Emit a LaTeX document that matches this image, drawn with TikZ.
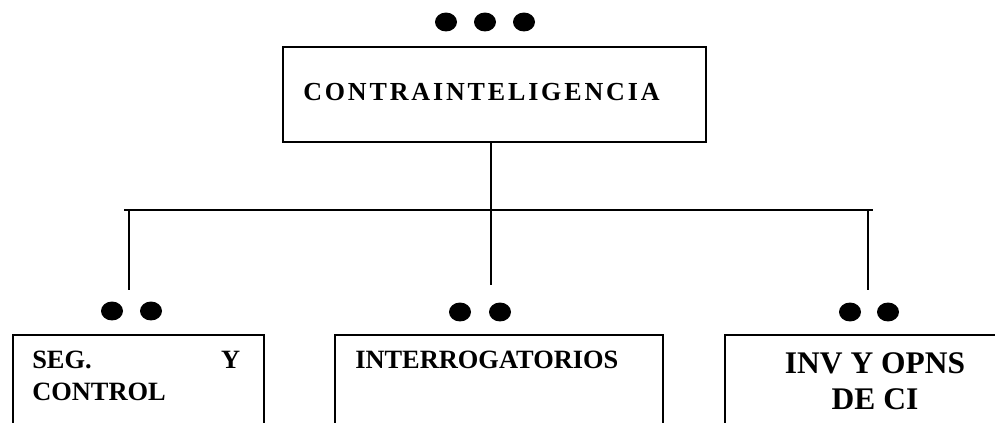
\documentclass[tikz,border=0pt]{standalone}
\usepackage{fontspec}
\setmainfont{Liberation Serif}
\newfontfamily\spacedfont[LetterSpace=11]{Liberation Serif}

\begin{document}
\begin{tikzpicture}[x=0.75pt,y=-0.75pt,
    box/.style={draw, line width=1.3pt, inner sep=0pt, anchor=north west},
    link/.style={line width=1.1pt},
    boxtext/.style={inner sep=0pt, font=\bfseries\fontsize{19.8}{24}\selectfont}]
        \useasboundingbox (0,0) rectangle (995,423);
        \clip (0,0) rectangle (995,423);

        % top box
        \node[box, minimum width=317.25pt, minimum height=71.25pt] (ci) at (282,46) {};
        \node[inner sep=0pt, anchor=base west] (citext) at (303,101)
            {\spacedfont\bfseries\fontsize{19.5}{22}\selectfont CONTRAINTELIGENCIA};

        % bottom boxes
        \node[box, minimum width=188.25pt, minimum height=109.5pt] (seg) at (12,334) {};
        \node[box, minimum width=246pt, minimum height=109.5pt] (inte) at (334,334) {};
        \node[box, minimum width=223.5pt, minimum height=109.5pt] (inv) at (724,334) {};

        \node[boxtext, anchor=base west, text width=156pt, align=left] (segtext) at (32,369) {SEG.\hfill Y\\CONTROL};
        \node[boxtext, anchor=base west] (intetext) at (355,369) {INTERROGATORIOS};
        \node[boxtext, anchor=base, align=center, font=\bfseries\fontsize{23.6}{27}\selectfont] (invtext) at (875,410) {INV Y OPNS\\DE CI};

        % connectors
        \coordinate (barl) at (124,210);
        \coordinate (barr) at (873,210);
        \coordinate (midend) at (491,285);
        \coordinate (ltop) at (129,211);
        \coordinate (lend) at (129,290);
        \coordinate (rtop) at (868,211);
        \coordinate (rend) at (868,290);
        \draw[link] (ci.south -| midend) -- (midend);
        \draw[link] (barl) -- (barr);
        \draw[link] (ltop) -- (lend);
        \draw[link] (rtop) -- (rend);

        % dots
        \foreach \x/\y in {446/22, 485/22, 524/22, 112/311, 151/311, 460/312, 500/312, 850/312, 888/312}
            \fill (\x,\y) ellipse [x radius=8.25pt, y radius=7.1pt];
    \end{tikzpicture}
\end{document}
